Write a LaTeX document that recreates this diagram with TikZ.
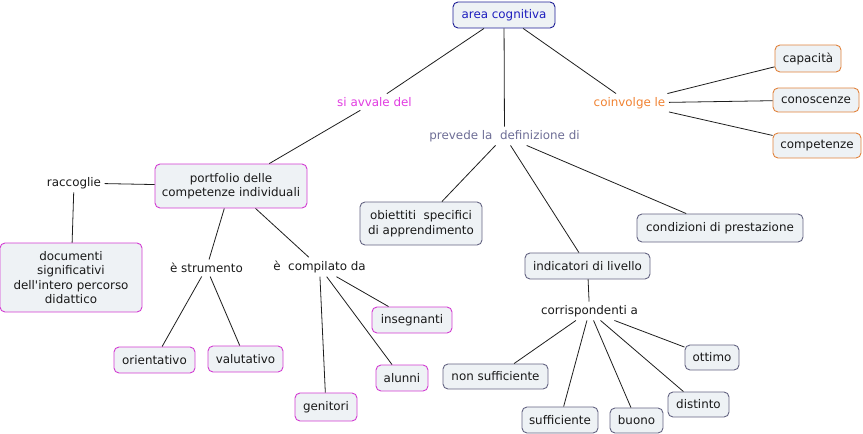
\documentclass[tikz,border=0pt]{standalone}
\usepackage{fontspec}
\setmainfont{DejaVu Sans}[Ligatures=TeXOff]
\definecolor{boxfill}{RGB}{238,242,245}
\definecolor{bluebd}{RGB}{30,30,150}
\definecolor{bluetx}{RGB}{30,30,190}
\definecolor{magbd}{RGB}{210,60,210}
\definecolor{magtx}{RGB}{225,60,225}
\definecolor{orabd}{RGB}{225,130,60}
\definecolor{oratx}{RGB}{240,130,50}
\definecolor{graybd}{RGB}{100,100,130}
\definecolor{graytx}{RGB}{110,110,150}
\definecolor{linec}{RGB}{30,30,30}
\tikzset{
  box/.style={draw, rounded corners=5pt, fill=boxfill, line width=0.9pt, align=center, inner sep=2pt, text=black!90},
  bbox/.style={box, draw=bluebd, text=bluetx},
  mbox/.style={box, draw=magbd},
  obox/.style={box, draw=orabd},
  gbox/.style={box, draw=graybd},
  lab/.style={inner sep=3.5pt, align=center, text=black!90},
  conn/.style={draw=linec, line width=0.8pt},
}
\begin{document}
\begin{tikzpicture}[x=1pt,y=-1pt, every node/.style={font=\fontsize{11.9}{14.5}\selectfont}]
\useasboundingbox (0,0) rectangle (863,434);
% concepts
\node[bbox, minimum width=102pt, minimum height=26pt] (area) at (504,15) {area cognitiva};
\node[obox, minimum width=66pt, minimum height=27pt] (cap) at (808,58.5) {capacità};
\node[obox, minimum width=86pt, minimum height=24pt] (con) at (816,100) {conoscenze};
\node[obox, minimum width=88pt, minimum height=25pt] (com) at (817,145.5) {competenze};
\node[mbox, minimum width=152pt, minimum height=44pt] (port) at (231,186) {portfolio delle\\competenze individuali};
\node[mbox, minimum width=142pt, minimum height=69pt] (doc) at (71,277.5) {documenti\\significativi\\dell'intero percorso\\didattico};
\node[mbox, minimum width=81pt, minimum height=26pt] (ori) at (154.5,360) {orientativo};
\node[mbox, minimum width=75pt, minimum height=26pt] (val) at (245.5,359) {valutativo};
\node[mbox, minimum width=62pt, minimum height=28pt] (gen) at (326,407) {genitori};
\node[mbox, minimum width=52pt, minimum height=26pt] (alu) at (402,378) {alunni};
\node[mbox, minimum width=80pt, minimum height=26pt] (ins) at (412,320) {insegnanti};
\node[gbox, minimum width=122pt, minimum height=43pt] (obi) at (421,223.5) {obiettiti~ specifici\\di apprendimento};
\node[gbox, minimum width=166pt, minimum height=28pt] (cond) at (720,228) {condizioni di prestazione};
\node[gbox, minimum width=125pt, minimum height=26pt] (ind) at (587.5,266) {indicatori di livello};
\node[gbox, minimum width=105pt, minimum height=25pt] (nons) at (495.5,376.5) {non sufficiente};
\node[gbox, minimum width=76pt, minimum height=26pt] (suf) at (560,420) {sufficiente};
\node[gbox, minimum width=53pt, minimum height=25pt] (buo) at (636.5,420.5) {buono};
\node[gbox, minimum width=61pt, minimum height=25pt] (dis) at (698.5,404.5) {distinto};
\node[gbox, minimum width=54pt, minimum height=25pt] (ott) at (712,357.5) {ottimo};
% linking phrases
\node[lab, text=magtx] (sia) at (374.5,102) {si avvale del};
\node[lab, text=oratx] (coi) at (629.5,103) {coinvolge le};
\node[lab, text=graytx] (pre) at (504.5,136) {prevede la~ definizione di};
\node[lab] (rac) at (74,183) {raccoglie};
\node[lab] (str) at (206.5,268) {è strumento};
\node[lab] (cmp) at (319.5,267) {è~ compilato da};
\node[lab] (cor) at (589.5,311) {corrispondenti a};
% connectors
\draw[conn] (area) -- (sia);
\draw[conn] (sia) -- (port);
\draw[conn] (area) -- (coi);
\draw[conn] (coi) -- (cap);
\draw[conn] (coi) -- (con);
\draw[conn] (coi) -- (com);
\draw[conn] (area) -- (pre);
\draw[conn] (pre) -- (obi);
\draw[conn] (pre) -- (ind);
\draw[conn] (pre) -- (cond);
\draw[conn] (port) -- (rac);
\draw[conn] (rac) -- (doc);
\draw[conn] (port) -- (str);
\draw[conn] (str) -- (ori);
\draw[conn] (str) -- (val);
\draw[conn] (port) -- (cmp);
\draw[conn] (cmp) -- (gen);
\draw[conn] (cmp) -- (alu);
\draw[conn] (cmp) -- (ins);
\draw[conn] (ind) -- (cor);
\draw[conn] (cor) -- (nons);
\draw[conn] (cor) -- (suf);
\draw[conn] (cor) -- (buo);
\draw[conn] (cor) -- (dis);
\draw[conn] (cor) -- (ott);
\end{tikzpicture}
\end{document}
